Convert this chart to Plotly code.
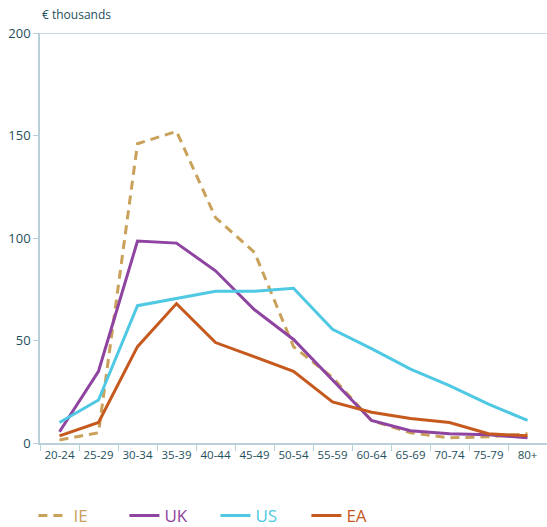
import plotly.graph_objects as go

categories = ["20-24", "25-29", "30-34", "35-39", "40-44", "45-49", "50-54",
              "55-59", "60-64", "65-69", "70-74", "75-79", "80+"]
ie = [1.5, 5, 146, 152, 110, 93, 47, 32, 11, 5, 2.5, 3, 4.5]
uk = [5.5, 35, 98.5, 97.5, 84, 65, 50.5, 31, 11, 6, 4.5, 4, 2.5]
us = [10, 21, 67, 70.5, 74, 74, 75.5, 55.5, 46, 36, 28, 19, 11]
ea = [3.5, 10, 47, 68, 49, 42, 35, 20, 15, 12, 10, 4.5, 3.5]

series = [
    ("IE", ie, "#c9a15a", "9px,6px"),
    ("UK", uk, "#8e44a0", "solid"),
    ("US", us, "#4fc9e3", "solid"),
    ("EA", ea, "#c65a1e", "solid"),
]

axis_col = "#b9cfd9"
text_col = "#1e4f5b"
font_family = "Open Sans, sans-serif"

fig = go.Figure()
for name, vals, col, dash in series:
    fig.add_trace(go.Scatter(
        x=categories, y=vals, mode="lines",
        name=f"<span style='color:{col}'>{name}</span>",
        line=dict(color=col, width=3, dash=dash),
    ))

fig.update_layout(
    width=547, height=527,
    margin=dict(l=40, r=0, t=33, b=84, autoexpand=False),
    paper_bgcolor="white", plot_bgcolor="white",
    font=dict(family=font_family, color=text_col, size=12),
    showlegend=True,
    legend=dict(orientation="h", x=-0.013, xanchor="left", y=-0.178, yanchor="middle",
                font=dict(size=17), entrywidth=46, itemwidth=30,
                bgcolor="rgba(0,0,0,0)"),
    xaxis=dict(type="category", range=[-0.5, 12.5], showline=True, linecolor=axis_col,
               linewidth=1.5, ticks="outside", tickson="boundaries", ticklen=6,
               tickcolor=axis_col, showgrid=False, zeroline=False, tickangle=0,
               automargin=False,
               tickfont=dict(size=11.5, color=text_col)),
    yaxis=dict(range=[0, 200], tickvals=[0, 50, 100, 150, 200], showline=True,
               linecolor=axis_col, linewidth=1.5, ticks="outside", ticklen=5,
               tickcolor=axis_col, showgrid=False, zeroline=False, automargin=False,
               tickfont=dict(size=13, color=text_col)),
    shapes=[dict(type="line", xref="paper", yref="y", x0=0, x1=1, y0=200, y1=200,
                 line=dict(color=axis_col, width=1.5))],
    annotations=[dict(text="€ thousands", xref="paper", yref="paper", x=0, y=1,
                      xanchor="left", yanchor="bottom", yshift=8, showarrow=False,
                      font=dict(size=12, color=text_col))],
)

fig.write_html("out.html", config={"displayModeBar": False},
               post_script="document.body.style.margin='0';document.body.style.overflow='hidden';")
